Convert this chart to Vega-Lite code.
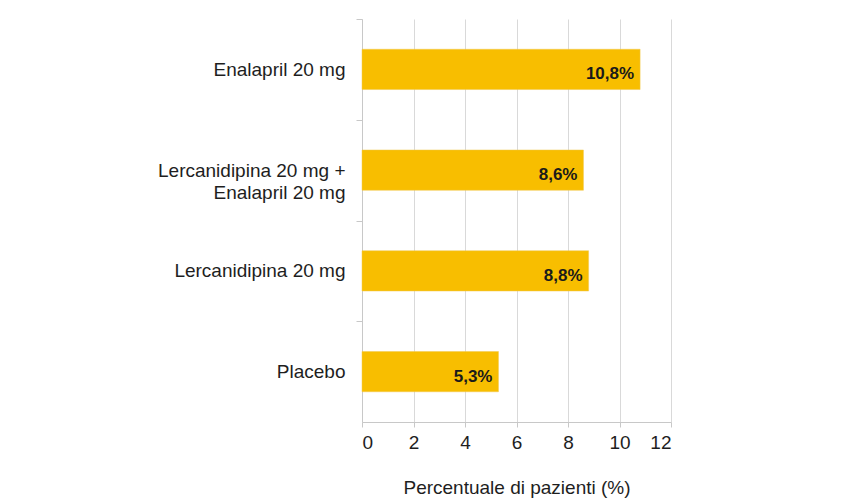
{
  "$schema": "https://vega.github.io/schema/vega-lite/v6.json",
  "autosize": "none",
  "width": 309,
  "height": 403,
  "padding": {"left": 362, "top": 19, "right": 175, "bottom": 80},
  "background": "white",
  "data": {
    "values": [
      {"gruppo": "Enalapril 20 mg", "valore": 10.8, "etichetta": "10,8%"},
      {"gruppo": "Lercanidipina 20 mg + Enalapril 20 mg", "valore": 8.6, "etichetta": "8,6%"},
      {"gruppo": "Lercanidipina 20 mg", "valore": 8.8, "etichetta": "8,8%"},
      {"gruppo": "Placebo", "valore": 5.3, "etichetta": "5,3%"}
    ]
  },
  "encoding": {
    "y": {
      "field": "gruppo",
      "type": "nominal",
      "sort": ["Enalapril 20 mg", "Lercanidipina 20 mg + Enalapril 20 mg", "Lercanidipina 20 mg", "Placebo"],
      "scale": {"paddingInner": 0.6, "paddingOuter": 0.3},
      "axis": {
        "title": null,
        "domainColor": "#c8c8c8",
        "tickColor": "#c8c8c8",
        "tickSize": 6,
        "tickOffset": -50.375,
        "labelOffset": 50.375,
        "labelPadding": 11,
        "labelFont": "Liberation Sans",
        "labelFontSize": 19,
        "labelColor": "#1e1e1e",
        "labelLineHeight": 22,
        "labelLimit": 400,
        "labelExpr": "indexof(datum.value, ' + ') > 0 ? [slice(datum.value, 0, indexof(datum.value, ' + ') + 2), slice(datum.value, indexof(datum.value, ' + ') + 3)] : datum.value"
      }
    },
    "x": {
      "field": "valore",
      "type": "quantitative",
      "scale": {"domain": [0, 12]},
      "axis": {
        "title": "Percentuale di pazienti (%)",
        "titleFont": "Liberation Sans",
        "titleFontSize": 19,
        "titleFontWeight": "normal",
        "titleColor": "#1e1e1e",
        "titlePadding": 26,
        "values": [0, 2, 4, 6, 8, 10, 12],
        "grid": true,
        "gridColor": "#d9d9d9",
        "domainColor": "#c8c8c8",
        "tickColor": "#c8c8c8",
        "tickSize": 5,
        "labelFont": "Liberation Sans",
        "labelFontSize": 19,
        "labelColor": "#1e1e1e",
        "labelPadding": 6
      }
    }
  },
  "layer": [
    {"mark": {"type": "bar", "color": "#f8be00", "stroke": "#f0c850", "strokeWidth": 0.5}},
    {
      "mark": {"type": "text", "align": "right", "baseline": "middle", "dx": -6, "dy": 5, "font": "Liberation Sans", "fontSize": 17, "fontWeight": "bold", "color": "#1a1a1a"},
      "encoding": {"text": {"field": "etichetta"}}
    }
  ],
  "config": {"view": {"stroke": null}}
}
